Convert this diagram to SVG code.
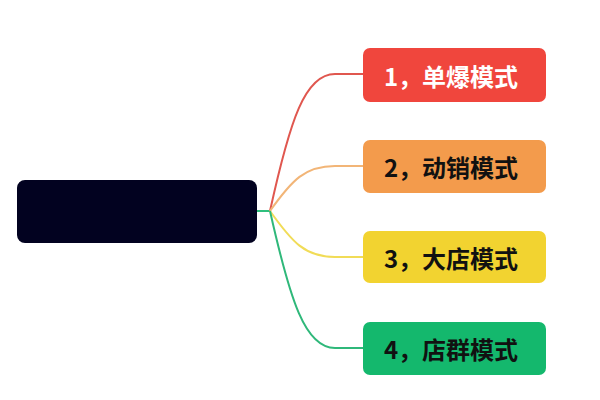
<svg xmlns="http://www.w3.org/2000/svg" width="600" height="400" viewBox="0 0 600 400">
<style>
.lbl{font-family:"Noto Sans CJK SC","Noto Sans",sans-serif;font-size:24px;font-weight:bold;text-anchor:middle;dominant-baseline:central}
.edge{fill:none;stroke-width:2}
</style>
<rect width="600" height="400" fill="#ffffff"/>
<g id="connectors">
<path class="edge" stroke="#2fbf7d" d="M257,211 L270,211"/>
<path class="edge" stroke="#e0574f" d="M270,211 C290,120 305,74 335,74 L363,74"/>
<path class="edge" stroke="#f2b577" d="M270,211 C292,180 305,166 335,166 L363,166"/>
<path class="edge" stroke="#f1dc57" d="M270,211 C292,242 305,257 335,257 L363,257"/>
<path class="edge" stroke="#2fb87a" d="M270,211 C290,300 305,348 335,348 L363,348"/>
</g>
<g id="root">
<rect x="17" y="180" width="240" height="63" rx="8" fill="#020220"/>
</g>
<g id="n1">
<rect x="363" y="48" width="183" height="54" rx="7" fill="#f0463d"/>
<text class="lbl" x="451" y="75" fill="#ffffff">1，单爆模式</text>
</g>
<g id="n2">
<rect x="363" y="140" width="183" height="53" rx="7" fill="#f39b4c"/>
<text class="lbl" x="451" y="166" fill="#111111">2，动销模式</text>
</g>
<g id="n3">
<rect x="363" y="231" width="183" height="52" rx="7" fill="#f2d330"/>
<text class="lbl" x="451" y="257" fill="#111111">3，大店模式</text>
</g>
<g id="n4">
<rect x="363" y="322" width="183" height="53" rx="7" fill="#14b86d"/>
<text class="lbl" x="451" y="348" fill="#111111">4，店群模式</text>
</g>
</svg>
